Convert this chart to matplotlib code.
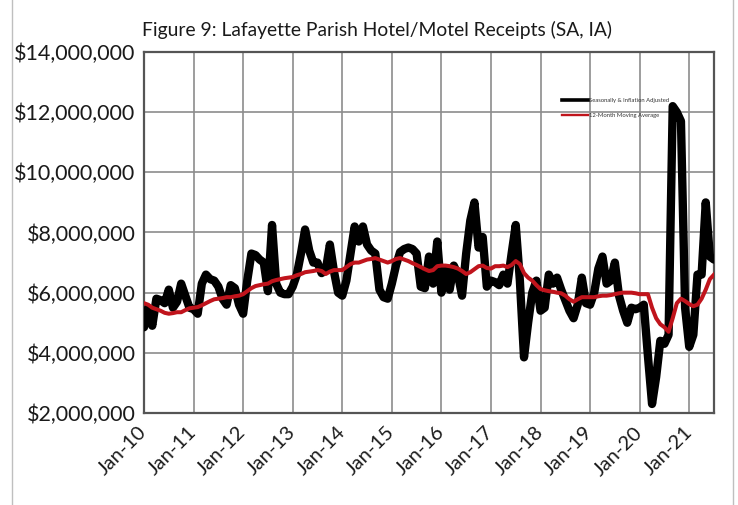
import matplotlib
matplotlib.use("Agg")
import matplotlib.pyplot as plt
import matplotlib.ticker as mticker
import matplotlib.transforms as mtransforms
from matplotlib.lines import Line2D

# Monthly data, Jan-2010 .. Jul-2021 (millions of dollars)
receipts_sa_ia = [
    4.85, 5.5, 4.9, 5.8, 5.75, 5.65, 6.1, 5.5, 5.7, 6.3, 5.9, 5.5,          # 2010
    5.45, 5.3, 6.3, 6.6, 6.45, 6.4, 6.2, 5.8, 5.6, 6.25, 6.15, 5.6,         # 2011
    5.3, 6.4, 7.3, 7.25, 7.1, 7.0, 6.05, 8.25, 6.3, 6.0, 5.95, 5.95,        # 2012
    6.2, 6.6, 7.3, 8.1, 7.4, 7.0, 7.0, 6.65, 6.75, 7.6, 6.7, 6.0,           # 2013
    5.9, 6.4, 7.3, 8.2, 7.7, 8.2, 7.6, 7.4, 7.3, 6.1, 5.85, 5.8,            # 2014
    6.3, 6.9, 7.35, 7.45, 7.5, 7.45, 7.3, 6.2, 6.15, 7.2, 6.3, 7.7,         # 2015
    6.0, 6.8, 6.1, 6.9, 6.6, 5.9, 7.3, 8.4, 9.0, 7.5, 7.85, 6.2,            # 2016
    6.4, 6.35, 6.25, 6.6, 6.3, 7.3, 8.25, 6.4, 3.85, 5.0, 6.0, 6.4,         # 2017
    5.4, 5.5, 6.6, 6.3, 6.5, 6.1, 5.75, 5.4, 5.15, 5.6, 6.5, 5.65,          # 2018
    5.6, 6.0, 6.8, 7.2, 6.3, 6.4, 7.0, 5.9, 5.4, 5.0, 5.5, 5.45,            # 2019
    5.5, 5.6, 3.9, 2.3, 3.2, 4.4, 4.3, 4.6, 12.2, 12.0, 11.7, 5.5,          # 2020
    4.2, 4.6, 6.6, 6.6, 9.0, 7.2, 7.1,                                      # 2021
]

moving_avg_12m = [
    5.65, 5.6, 5.5, 5.45, 5.4, 5.33, 5.3, 5.32, 5.35, 5.35, 5.42, 5.48,
    5.5, 5.52, 5.58, 5.65, 5.72, 5.78, 5.8, 5.82, 5.85, 5.85, 5.88, 5.9,
    5.95, 6.05, 6.15, 6.22, 6.25, 6.28, 6.3, 6.38, 6.42, 6.45, 6.48, 6.5,
    6.52, 6.58, 6.62, 6.68, 6.7, 6.72, 6.75, 6.72, 6.62, 6.7, 6.75, 6.75,
    6.75, 6.85, 6.95, 7.0, 7.0, 7.05, 7.1, 7.12, 7.15, 7.1, 7.05, 7.0,
    7.05, 7.12, 7.15, 7.1, 7.05, 6.98, 6.92, 6.85, 6.78, 6.72, 6.75, 6.88,
    6.9, 6.9, 6.88, 6.85, 6.8, 6.72, 6.62, 6.68, 6.78, 6.88, 6.9, 6.82,
    6.8, 6.88, 6.88, 6.9, 6.85, 6.92, 7.05, 6.95, 6.65, 6.5, 6.4, 6.25,
    6.12, 6.08, 6.05, 6.03, 6.0, 5.98, 5.9, 5.78, 5.7, 5.78, 5.85, 5.85,
    5.85, 5.85, 5.88, 5.9, 5.9, 5.92, 5.95, 5.98, 6.0, 6.0, 6.0, 5.98,
    5.95, 5.95, 5.95, 5.5, 5.15, 4.95, 4.85, 4.7, 5.15, 5.65, 5.8, 5.72,
    5.62, 5.55, 5.6, 5.8, 6.1, 6.45, 6.6,
]

tick_labels = ["Jan-10", "Jan-11", "Jan-12", "Jan-13", "Jan-14", "Jan-15",
               "Jan-16", "Jan-17", "Jan-18", "Jan-19", "Jan-20", "Jan-21"]
y_ticks = [2e6, 4e6, 6e6, 8e6, 10e6, 12e6, 14e6]
series_names = ["Seasonally & Inflation Adjusted", "12-Month Moving Average"]
title = "Figure 9: Lafayette Parish Hotel/Motel Receipts (SA, IA)"

FONT = ["Lato", "DejaVu Sans"]
plt.rcParams["font.family"] = FONT

W, H = 738, 505
fig = plt.figure(figsize=(W / 100, H / 100), dpi=100)
ax = fig.add_axes([144 / W, 1 - 413 / H, (714 - 144) / W, (413 - 52) / H])

months = list(range(len(receipts_sa_ia)))
black_vals = [v * 1e6 for v in receipts_sa_ia]
red_vals = [v * 1e6 for v in moving_avg_12m]

ax.plot(months, black_vals, color="black", lw=6.0, solid_joinstyle="round",
        solid_capstyle="round", zorder=3)
ax.plot(months, red_vals, color="#C0141C", lw=2.9, solid_joinstyle="round",
        zorder=4)

ax.set_xlim(0, len(months) - 1)
ax.set_ylim(2e6, 14e6)
ax.set_yticks(y_ticks)
ax.yaxis.set_major_formatter(mticker.FuncFormatter(lambda v, p: "${:,.0f}".format(v)))
xt = [12 * i for i in range(len(tick_labels))]
ax.set_xticks(xt)
ax.set_xticklabels(tick_labels, rotation=45, ha="right", va="center",
                   rotation_mode="anchor", fontsize=14.5, color="#1a1a1a")
shift = mtransforms.ScaledTranslation(5 / 100, 0, fig.dpi_scale_trans)
for lab in ax.get_xticklabels():
    lab.set_transform(lab.get_transform() + shift)
ax.tick_params(axis="y", labelsize=15.5, length=0, pad=6, labelcolor="#1a1a1a")
ax.tick_params(axis="x", length=0, pad=12)

ax.grid(True, color="#8c8c8c", lw=1.2, zorder=0)
ax.set_axisbelow(True)
for s in ax.spines.values():
    s.set_color("#555555")
    s.set_linewidth(1.6)

handles = [Line2D([], [], color="black", lw=2.6),
           Line2D([], [], color="#C0141C", lw=1.7)]
leg = ax.legend(handles, series_names, loc="upper left",
                bbox_to_anchor=(0.733, 0.872), frameon=False, fontsize=4.2,
                handlelength=4.5, handletextpad=0.2, labelspacing=1.6,
                borderpad=0, borderaxespad=0)
for t in leg.get_texts():
    t.set_color("#333333")

fig.text(142 / W, 1 - 30 / H, title, ha="left", va="center", fontsize=13.9,
         color="#1a1a1a")

# outer chart-area border lines (left / right)
fig.add_artist(Line2D([12 / W, 12 / W], [0, 1], transform=fig.transFigure,
                      color="#bfbfbf", lw=1))
fig.add_artist(Line2D([733 / W, 733 / W], [0, 1], transform=fig.transFigure,
                      color="#bfbfbf", lw=1))

fig.savefig("out.png", dpi=100, facecolor="white")
